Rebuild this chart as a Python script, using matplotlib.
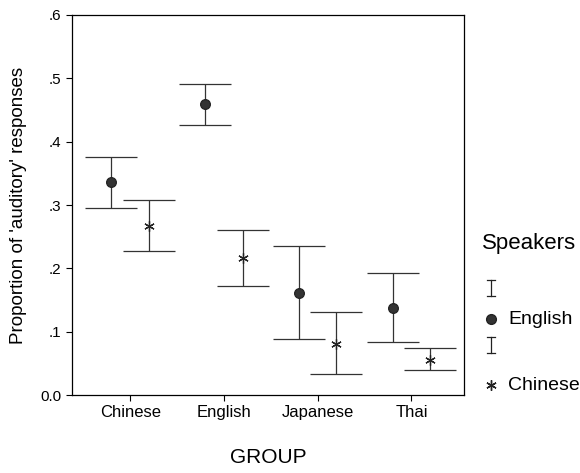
import matplotlib
matplotlib.use("Agg")
import matplotlib.pyplot as plt
from matplotlib.lines import Line2D
import numpy as np

plt.rcParams['font.family'] = ['Liberation Sans', 'DejaVu Sans']

groups = ["Chinese", "English", "Japanese", "Thai"]

# English speakers
eng_mean = [0.336, 0.460, 0.161, 0.137]
eng_low = [0.296, 0.427, 0.089, 0.083]
eng_high = [0.376, 0.491, 0.236, 0.193]

# Chinese speakers
chi_mean = [0.267, 0.216, 0.080, 0.056]
chi_low = [0.228, 0.172, 0.033, 0.039]
chi_high = [0.308, 0.260, 0.131, 0.074]

W, H = 580, 473
fig = plt.figure(figsize=(W / 100, H / 100), dpi=100)
ax = fig.add_axes([72 / W, 1 - 395 / H, (464 - 72) / W, (395 - 15) / H])

x = np.arange(len(groups))
off = 0.2
line_col = "#333333"


def draw_series(xs, mean, low, high, marker, ms, mfc):
    mean = np.array(mean)
    yerr = [mean - np.array(low), np.array(high) - mean]
    ax.errorbar(xs, mean, yerr=yerr, fmt="none", ecolor=line_col,
                elinewidth=0.9, capsize=19, capthick=0.9)
    ax.plot(xs, mean, linestyle="none", marker=marker, markersize=ms,
            markerfacecolor=mfc, markeredgecolor="#222222", markeredgewidth=0.9)


draw_series(x - off, eng_mean, eng_low, eng_high, "o", 7, "#333333")
draw_series(x + off, chi_mean, chi_low, chi_high, (6, 2, 0), 7.5, "none")

ax.set_xlim(-0.62, 3.56)
ax.set_ylim(0, 0.6)
ax.set_xticks(x)
ax.set_xticklabels(groups, fontsize=12)
ax.set_yticks([0, 0.1, 0.2, 0.3, 0.4, 0.5, 0.6])
ax.set_yticklabels(["0.0", ".1", ".2", ".3", ".4", ".5", ".6"], fontsize=11)
ax.tick_params(direction="out", length=4, width=0.8, top=False, right=False)
for s in ax.spines.values():
    s.set_linewidth(0.9)
ax.set_ylabel("Proportion of 'auditory' responses", fontsize=13.5, labelpad=10)
ax.set_xlabel("GROUP", fontsize=15, labelpad=20)

# manual legend
def px(xp, yp):
    return xp / W, 1 - yp / H


fig.text(*px(482, 244), "Speakers", fontsize=16, va="center", ha="left")
for top, bot in ((280, 296), (337, 353)):
    xs, _ = px(491, 0)
    hw = 4 / W
    fig.add_artist(Line2D([xs, xs], [px(0, top)[1], px(0, bot)[1]],
                          color="#222222", lw=0.9, transform=fig.transFigure))
    for yy in (top, bot):
        fig.add_artist(Line2D([xs - hw, xs + hw], [px(0, yy)[1]] * 2,
                              color="#222222", lw=0.9, transform=fig.transFigure))
mx, my = px(491, 319)
fig.add_artist(Line2D([mx], [my], marker="o", markersize=7,
                      markerfacecolor="#333333", markeredgecolor="#222222",
                      transform=fig.transFigure))
mx, my = px(491, 385)
fig.add_artist(Line2D([mx], [my], marker=(6, 2, 0), markersize=7.5,
                      markeredgecolor="#222222", markerfacecolor="none",
                      transform=fig.transFigure))
fig.text(*px(508, 319), "English", fontsize=14, va="center", ha="left")
fig.text(*px(508, 385), "Chinese", fontsize=14, va="center", ha="left")

fig.savefig("out.png", dpi=100)
